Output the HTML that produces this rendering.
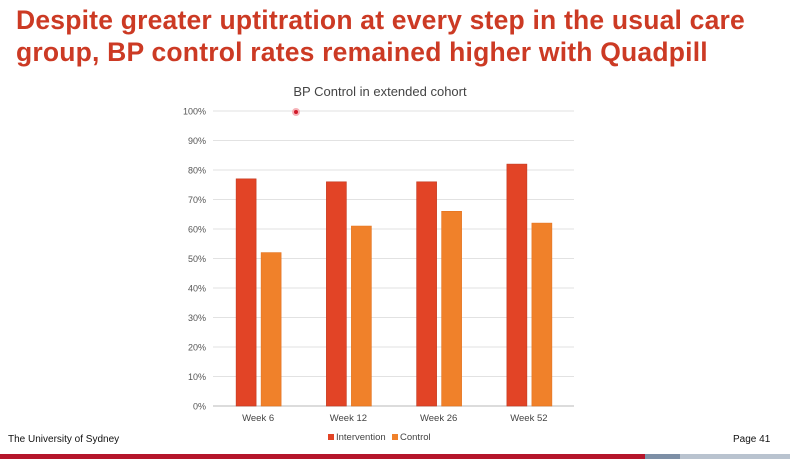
<!DOCTYPE html>
<html><head><meta charset="utf-8"><style>
body{margin:0;width:790px;height:459px;background:#fff;overflow:hidden;position:relative;font-family:"Liberation Sans",sans-serif}
.t{position:absolute;left:16px;top:4px;font-size:26.5px;font-weight:bold;color:#cc3a24;line-height:32px;letter-spacing:0.2px}
</style></head><body>
<div class="t">Despite greater uptitration at every step in the usual care<br>group, BP control rates remained higher with Quadpill</div>
<svg id="c" width="790" height="459" style="position:absolute;left:0;top:0"></svg>
<div style="position:absolute;left:8px;top:434px;font-size:10px;color:#111">The University of Sydney</div>
<div style="position:absolute;left:733px;top:434px;font-size:10px;color:#111">Page 41</div>
<div style="position:absolute;left:0;top:454px;width:645px;height:5px;background:#b5152b"></div>
<div style="position:absolute;left:645px;top:454px;width:35px;height:5px;background:#7d8fa6"></div>
<div style="position:absolute;left:680px;top:454px;width:110px;height:5px;background:#b9c3cf"></div>
<script>
const categories=["Week 6","Week 12","Week 26","Week 52"];
const intervention=[77,76,76,82];
const control=[52,61,66,62];
const ticks=[0,10,20,30,40,50,60,70,80,90,100];
const svg=document.getElementById('c');const NS="http://www.w3.org/2000/svg";
const x0=213,x1=574,y0=406,y1=111;
const y=v=>y0-(y0-y1)*v/100;
const bw=(x1-x0)/categories.length;
const xc=i=>x0+bw*(i+0.5);
function add(tag,a,txt){const e=document.createElementNS(NS,tag);for(const k in a)e.setAttribute(k,a[k]);if(txt!==undefined)e.textContent=txt;svg.appendChild(e);return e;}
let e=add('text',{x:380,y:96,'text-anchor':'middle','font-size':13,fill:'#444','font-family':'Liberation Sans, sans-serif'},'BP Control in extended cohort');


ticks.forEach(t=>{
 let l=add('line',{x1:x0,x2:x1,y1:y(t),y2:y(t),stroke:t===0?'#d0d0d0':'#e2e2e2','stroke-width':t===0?1.5:1});
 
 
 let tx=add('text',{x:206,y:y(t)+3.5,'text-anchor':'end','font-size':9,fill:'#555','font-family':'Liberation Sans, sans-serif'},t+'%');
 
 
});
categories.forEach((c,i)=>{
 let r=add('rect',{x:xc(i)-22,y:y(intervention[i]),width:20,height:y0-y(intervention[i]),fill:'#e24426',stroke:'#c2391f','stroke-width':0.6});
 
 
 let r2=add('rect',{x:xc(i)+3,y:y(control[i]),width:20,height:y0-y(control[i]),fill:'#f0812a',stroke:'#e3731f','stroke-width':0.6});
 
 
 let t=add('text',{x:xc(i),y:421,'text-anchor':'middle','font-size':9.5,fill:'#444','font-family':'Liberation Sans, sans-serif'},c);
 
 
});
let g1=add('rect',{x:328,y:434,width:6,height:6,fill:'#e24426'});


let g2=add('text',{x:336,y:440,'font-size':9.5,fill:'#444','font-family':'Liberation Sans, sans-serif'},'Intervention');


let g3=add('rect',{x:392,y:434,width:6,height:6,fill:'#f0812a'});


let g4=add('text',{x:400,y:440,'font-size':9.5,fill:'#444','font-family':'Liberation Sans, sans-serif'},'Control');


let p=add('circle',{cx:296,cy:112,r:3,fill:'#d11a2a',stroke:'#f6b3b8','stroke-width':2});


</script>
</body></html>
